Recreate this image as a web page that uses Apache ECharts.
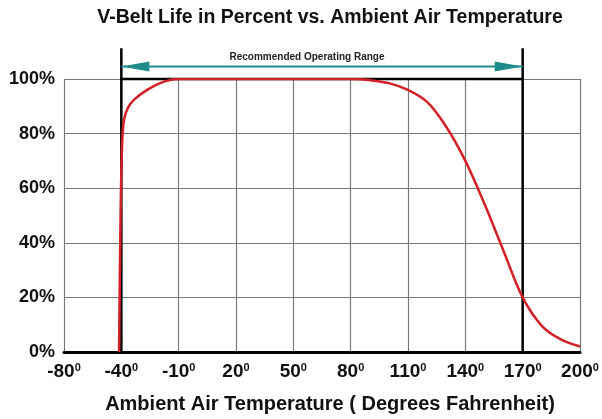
<!DOCTYPE html>
<html>
<head>
<meta charset="utf-8">
<script src="https://cdn.jsdelivr.net/npm/echarts@6/dist/echarts.min.js"></script>
<style>
  html, body { margin: 0; padding: 0; background: #fff; }
  #chart { width: 602px; height: 419px; }
</style>
</head>
<body>
<div id="chart"></div>
<script>
  // tick labels along the bottom (left edge is labelled -80 in the source)
  var tickLabels = ['-80', '-40', '-10', '20', '50', '80', '110', '140', '170', '200']
  // belt life curve, [deg F, percent]
  var beltLife = [
    [-41.2, 0], [-40.4, 50], [-39.6, 76], [-38.6, 85], [-36.5, 89.5], [-33, 92.6],
    [-26.5, 96], [-20, 98.4], [-14, 99.7], [-10, 100], [80, 100],
    [90, 99.6], [100, 98.5], [110, 96], [120, 91.6], [130, 82.5], [140, 70],
    [150, 54.3], [160, 37], [170, 20], [180, 9.6], [190, 4.6], [200, 2]
  ]
  // recommended operating range, deg F
  var rangeLow = -40
  var rangeHigh = 170
  var rangeTop = 111.3   // black marker lines run a bit above the 100% line
  var arrowLevel = 104.6

  var myChart = echarts.init(document.getElementById('chart'))
  var bold = { fontFamily: 'Liberation Sans', fontWeight: 'bold', color: '#111' }

  myChart.setOption({
    animation: false,
    title: [
      {
        text: 'V-Belt Life in Percent vs. Ambient Air Temperature',
        left: 325, top: 3, textAlign: 'center',
        textStyle: Object.assign({}, bold, { fontSize: 19.5 })
      },
      {
        text: 'Recommended Operating Range',
        left: 302, top: 47, textAlign: 'center',
        textStyle: Object.assign({}, bold, { fontSize: 10, color: '#222' })
      }
    ],
    grid: { left: 64, right: 22, top: 79, bottom: 56 },
    xAxis: [
      {
        type: 'category',
        data: tickLabels,
        boundaryGap: false,
        name: 'Ambient Air Temperature ( Degrees Fahrenheit)',
        nameLocation: 'middle',
        nameGap: 42,
        nameTextStyle: Object.assign({}, bold, { fontSize: 20, padding: [0, 0, 0, 16] }),
        axisLine: { lineStyle: { color: '#000', width: 3 } },
        axisTick: { show: false },
        axisLabel: {
          interval: 0,
          margin: 10,
          formatter: function (v) { return '{n|' + v + '}{s|0}' },
          rich: {
            n: Object.assign({}, bold, { fontSize: 19, lineHeight: 20 }),
            s: Object.assign({}, bold, { fontSize: 11, lineHeight: 12, verticalAlign: 'top' })
          }
        },
        splitLine: { show: true, lineStyle: { color: '#7a7a7a', width: 1.2 } }
      },
      { type: 'value', min: -70, max: 200, show: false }
    ],
    yAxis: {
      type: 'value',
      min: 0, max: 100, interval: 20,
      axisLine: { show: false },
      axisTick: { show: false },
      axisLabel: Object.assign({}, bold, { fontSize: 18, margin: 9, formatter: '{value}%' }),
      splitLine: { lineStyle: { color: '#7a7a7a', width: 1.2 } }
    },
    series: [
      {
        type: 'line', xAxisIndex: 1, clip: false, silent: true, showSymbol: false,
        lineStyle: { color: '#000', width: 2.5 },
        data: [[rangeLow, 0], [rangeLow, rangeTop]]
      },
      {
        type: 'line', xAxisIndex: 1, clip: false, silent: true, showSymbol: false,
        lineStyle: { color: '#000', width: 2.5 },
        data: [[rangeHigh, 0], [rangeHigh, rangeTop]]
      },
      {
        type: 'line', xAxisIndex: 1, clip: false, silent: true, showSymbol: false,
        lineStyle: { color: '#000', width: 2.5 },
        data: [[rangeLow, 100], [rangeHigh, 100]]
      },
      {
        // arrow
        type: 'line', xAxisIndex: 1, clip: false, silent: true,
        lineStyle: { color: '#1f8b8b', width: 2 },
        itemStyle: { color: '#1f8b8b' },
        data: [
          { value: [rangeLow, arrowLevel], symbol: 'path://M0,5 L30,0 L30,10 Z', symbolSize: [28, 10], symbolOffset: [14, 0] },
          { value: [rangeHigh, arrowLevel], symbol: 'path://M30,5 L0,0 L0,10 Z', symbolSize: [28, 10], symbolOffset: [-14, 0] }
        ]
      },
      {
        type: 'line', xAxisIndex: 1, silent: true, showSymbol: false,
        smooth: 0.35,
        lineStyle: { color: '#d42027', width: 2.5 },
        data: beltLife
      }
    ]
  })
</script>
</body>
</html>
